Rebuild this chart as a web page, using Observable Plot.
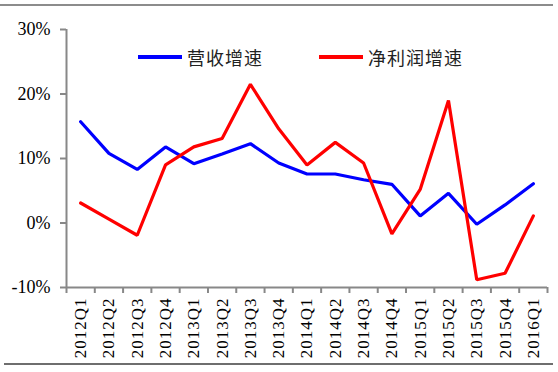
<!DOCTYPE html>
<html><head><meta charset="utf-8">
<script src="https://cdn.jsdelivr.net/npm/d3@7"></script>
<script src="https://cdn.jsdelivr.net/npm/@observablehq/plot@0.6"></script>
<style>
html,body{margin:0;padding:0;background:#fff;}
#wrap{position:relative;width:558px;height:372px;overflow:hidden;}
#topline{position:absolute;left:0;top:4px;width:553px;height:0;border-top:2px solid #8c8c8c;}
#botline{position:absolute;left:4px;top:363px;width:549px;height:0;border-top:2px solid #6e6e6e;}
.leg{position:absolute;top:46px;height:22px;display:flex;align-items:center;font-family:"Noto Sans CJK SC";font-size:18px;letter-spacing:1px;color:#222;}
.sw{display:inline-block;width:44px;height:0;border-top:4px solid;margin-right:5px;}
</style></head>
<body><div id="wrap"><div id="topline"></div><div id="botline"></div></div>
<script>
const quarters = ["2012Q1","2012Q2","2012Q3","2012Q4","2013Q1","2013Q2","2013Q3","2013Q4","2014Q1","2014Q2","2014Q3","2014Q4","2015Q1","2015Q2","2015Q3","2015Q4","2016Q1"];
const revenueGrowth = [15.7,10.8,8.3,11.8,9.2,10.7,12.3,9.3,7.6,7.6,6.7,6.0,1.1,4.6,-0.2,2.8,6.1];
const profitGrowth = [3.1,0.6,-1.9,9.0,11.8,13.1,21.5,14.6,9.0,12.5,9.3,-1.7,5.2,19.0,-8.8,-7.8,1.1];
const yTicks = [-10,0,10,20,30];
const seriesNames = ["营收增速","净利润增速"];
const seriesColors = ["#0000ff","#ff0000"];

const idx = quarters.map((q,i)=>i);
const bounds = d3.range(quarters.length+1).map(i=>i-0.5);

const chart = Plot.plot({
  width:558, height:372,
  marginLeft:66, marginRight:11, marginTop:29, marginBottom:85,
  style:{fontFamily:"Liberation Serif", fontSize:"17px", color:"#000", background:"transparent"},
  x:{type:"linear", domain:[-0.5, quarters.length-0.5], axis:null},
  y:{domain:[-10,30], axis:null},
  marks:[
    Plot.axisY({ticks:yTicks, tickFormat:d=>d+"%", tickSize:6, tickPadding:10, stroke:"#888", strokeWidth:2, fill:"#000", fontSize:18, style:{letterSpacing:"1px"}}),
    Plot.axisX({ticks:bounds, tickSize:6, tickFormat:()=>"", stroke:"#888", strokeWidth:2}),
    Plot.axisX({ticks:idx, tickFormat:i=>quarters[i], tickSize:0, tickPadding:10, tickRotate:-90, fill:"#000", fontSize:17}),
    Plot.ruleX([-0.5], {y1:-10, y2:30, stroke:"#888", strokeWidth:2}),
    Plot.ruleY([-10], {x1:-0.5, x2:quarters.length-0.5, stroke:"#888", strokeWidth:2}),
    Plot.lineY(revenueGrowth, {x:(d,i)=>i, y:d=>d, stroke:seriesColors[0], strokeWidth:3.2, strokeLinejoin:"miter"}),
    Plot.lineY(profitGrowth, {x:(d,i)=>i, y:d=>d, stroke:seriesColors[1], strokeWidth:3.2, strokeLinejoin:"miter"})
  ]
});
chart.querySelectorAll("text").forEach(t=>{ if (/^\d{4}Q\d$/.test(t.textContent)) t.setAttribute("letter-spacing","1"); });
const wrap = document.getElementById("wrap");
wrap.appendChild(chart);
const legPos = [138, 319];
seriesNames.forEach((n,i)=>{
  const d = document.createElement("div");
  d.className = "leg";
  d.style.left = legPos[i]+"px";
  d.innerHTML = `<span class="sw" style="border-color:${seriesColors[i]}"></span><span>${n}</span>`;
  wrap.appendChild(d);
});
</script></body></html>
